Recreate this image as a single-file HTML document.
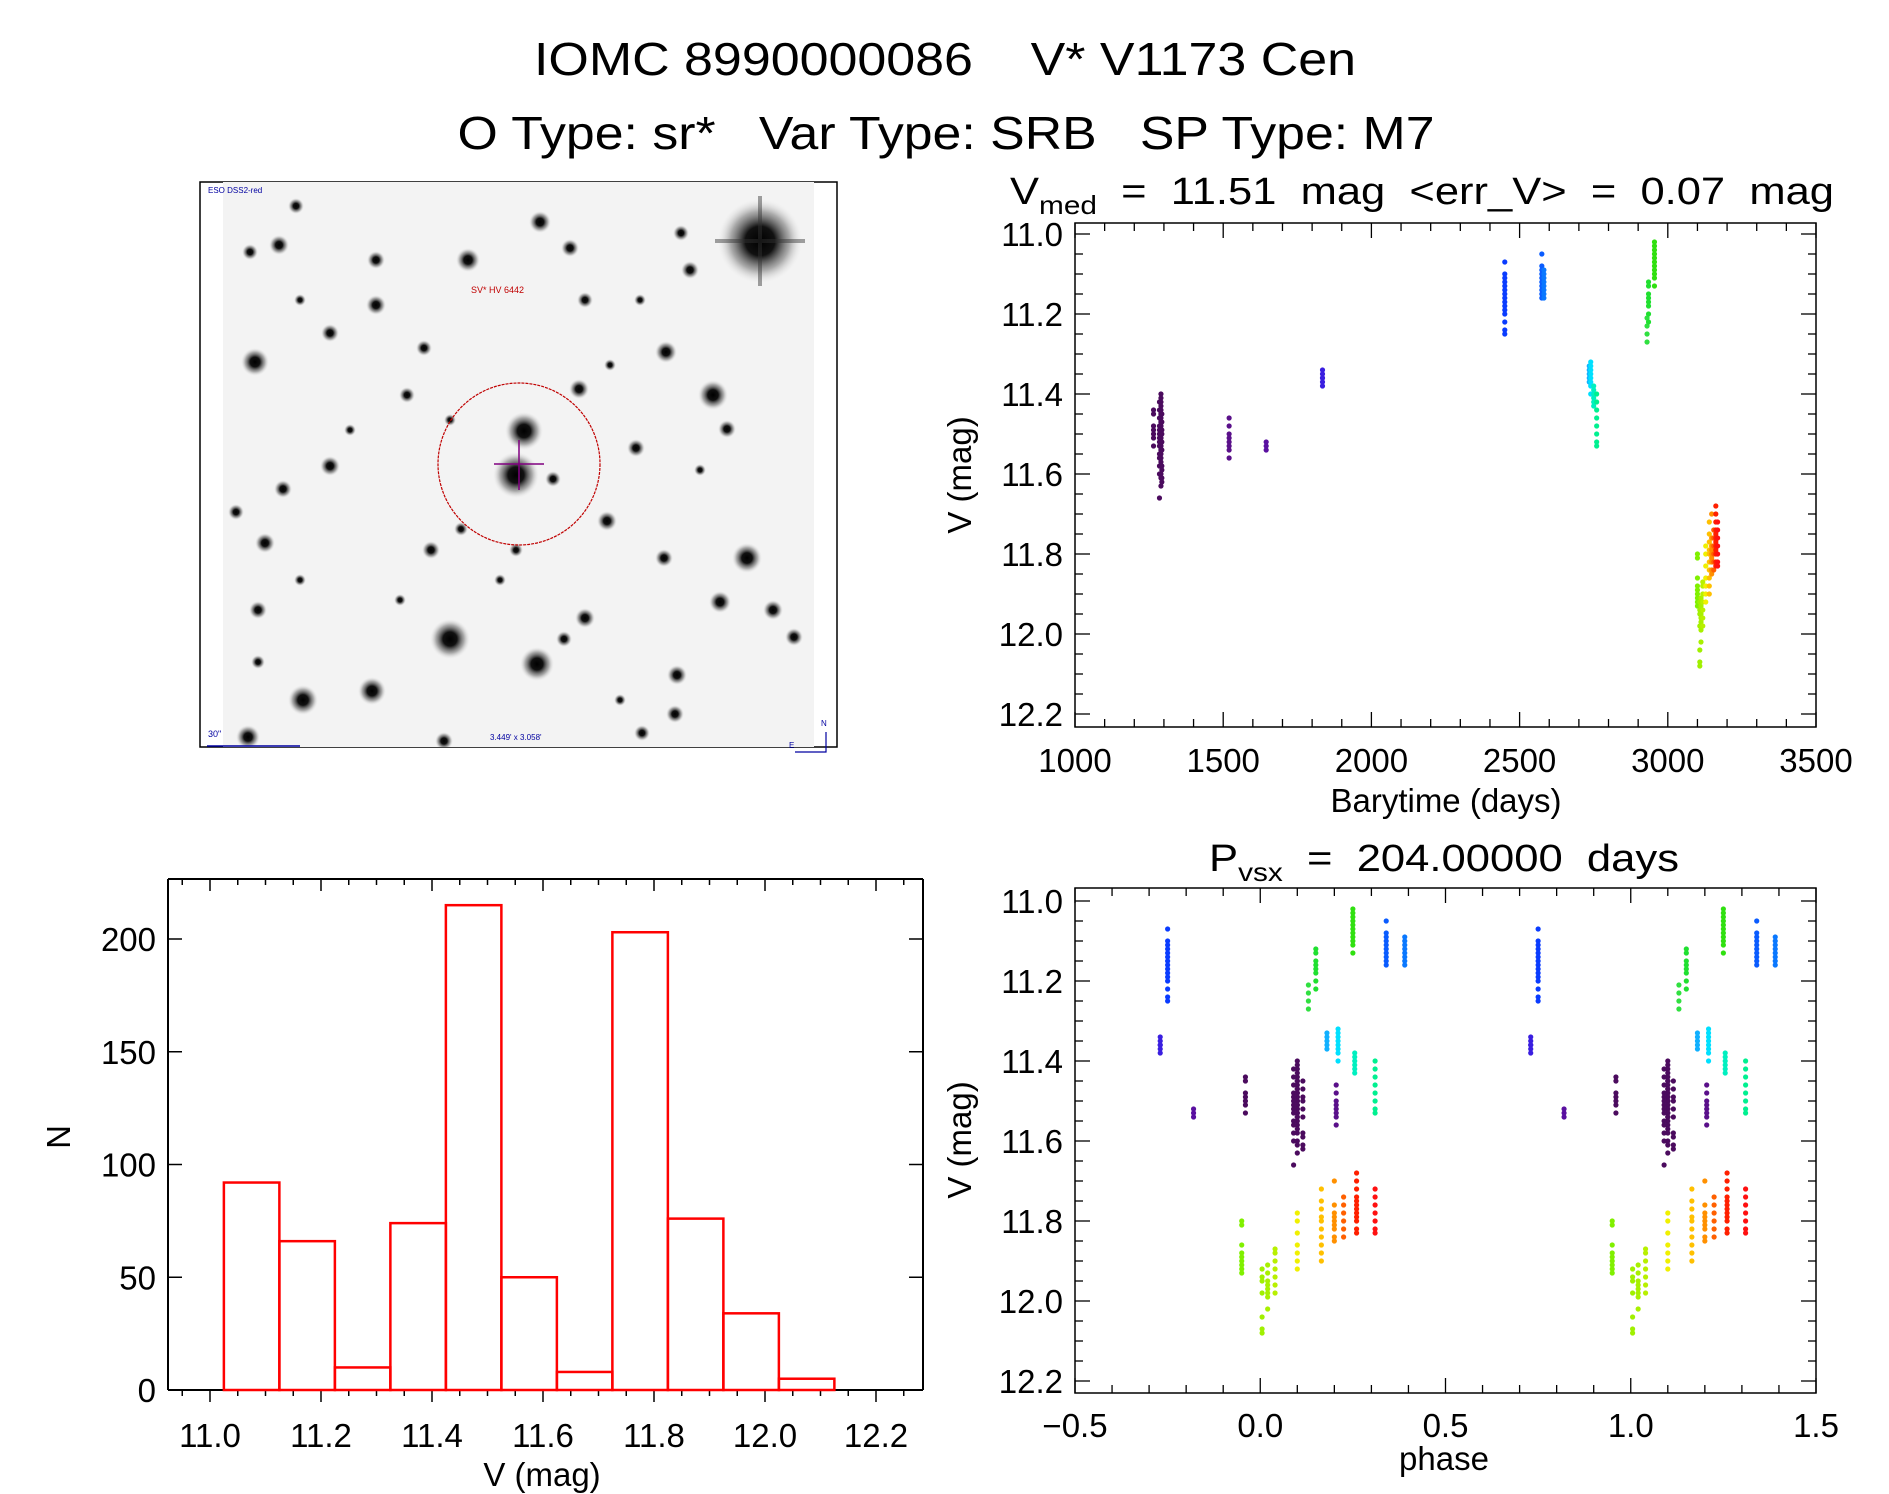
<!DOCTYPE html>
<html><head><meta charset="utf-8"><style>
html,body{margin:0;padding:0;background:#fff;}
svg{display:block;font-family:"Liberation Sans",sans-serif;}
svg text{white-space:pre;}
</style></head><body>
<svg id="fig" width="1889" height="1494" viewBox="0 0 1889 1494" xmlns="http://www.w3.org/2000/svg" xml:space="preserve">
<defs>
<radialGradient id="star"><stop offset="0" stop-color="#000"/><stop offset="0.35" stop-color="#111"/><stop offset="0.7" stop-color="#777" stop-opacity="0.6"/><stop offset="1" stop-color="#ddd" stop-opacity="0"/></radialGradient>
<clipPath id="imgclip"><rect x="223" y="182" width="591" height="565"/></clipPath>
</defs>
<text x="945" y="75" font-size="46" text-anchor="middle" textLength="822" lengthAdjust="spacingAndGlyphs">IOMC 8990000086    V* V1173 Cen</text>
<text x="946" y="149" font-size="46" text-anchor="middle" textLength="977" lengthAdjust="spacingAndGlyphs">O Type: sr*   Var Type: SRB   SP Type: M7</text>

<g id="skyimg">
<rect x="200" y="182" width="637" height="565" fill="#fff" stroke="#000" stroke-width="1.5"/>
<rect x="223" y="182" width="591" height="565" fill="#f3f3f3"/>
<g id="stars" clip-path="url(#imgclip)"></g>
<ellipse cx="519" cy="464" rx="81" ry="81" fill="none" stroke="#c00000" stroke-width="1.2" stroke-dasharray="3 1"/>
<line x1="494" y1="464" x2="544" y2="464" stroke="#800080" stroke-width="1.5"/>
<line x1="519" y1="440" x2="519" y2="490" stroke="#800080" stroke-width="1.5"/>
<text x="208" y="193" font-size="8" fill="#0000a0">ESO DSS2-red</text>
<text x="471" y="293" font-size="9" fill="#c00000">SV* HV 6442</text>
<text x="490" y="740" font-size="8" fill="#0000a0">3.449' x 3.058'</text>
<text x="208" y="737" font-size="9" fill="#0000a0">30"</text>
<line x1="207" y1="746" x2="300" y2="746" stroke="#0000a0" stroke-width="1.5"/>
<path d="M826,732 V752 H795" fill="none" stroke="#0000a0" stroke-width="1.2"/>
<text x="821" y="726" font-size="8" fill="#0000a0">N</text>
<text x="789" y="748" font-size="8" fill="#0000a0">E</text>
</g>

<g id="lc"></g>
<g id="ph"></g>
<g id="hist"></g>
</svg>
<script>
// ---------- data ----------
const groupTimes = [1290,1285,1293,1265,1520,1645,1835,2450,2575,2582,2735,2740,2750,2760,2930,2935,2955,3100,3108,3112,3118,3128,3140,3148,3155,3162,3168];
const groupPhases = [0.10,0.09,0.115,-0.04,0.205,-0.18,-0.27,-0.25,0.34,0.39,0.18,0.21,0.255,0.31,0.13,0.15,0.25,-0.05,0.005,0.02,0.04,0.10,0.165,0.20,0.225,0.26,0.31];
const groupMags = [
[11.40,11.41,11.42,11.43,11.44,11.45,11.45,11.46,11.47,11.47,11.48,11.48,11.49,11.49,11.50,11.50,11.50,11.51,11.51,11.52,11.52,11.53,11.53,11.54,11.54,11.55,11.56,11.57,11.58,11.60,11.61,11.63],
[11.42,11.44,11.46,11.48,11.49,11.50,11.51,11.52,11.53,11.55,11.56,11.58,11.60,11.66],
[11.45,11.47,11.49,11.50,11.52,11.54,11.58,11.59,11.61,11.62],
[11.44,11.45,11.48,11.49,11.50,11.51,11.53],
[11.46,11.48,11.50,11.51,11.52,11.53,11.54,11.56],
[11.52,11.53,11.54],
[11.34,11.35,11.36,11.36,11.37,11.38],
[11.07,11.10,11.11,11.12,11.13,11.14,11.15,11.16,11.17,11.18,11.19,11.20,11.22,11.24,11.25],
[11.05,11.08,11.09,11.10,11.11,11.12,11.13,11.14,11.15,11.16],
[11.09,11.10,11.11,11.12,11.13,11.14,11.15,11.16],
[11.33,11.34,11.35,11.36,11.37],
[11.32,11.33,11.34,11.35,11.36,11.37,11.38,11.40],
[11.38,11.39,11.40,11.41,11.42,11.43],
[11.40,11.42,11.44,11.46,11.48,11.50,11.52,11.53],
[11.21,11.23,11.25,11.27],
[11.12,11.13,11.15,11.16,11.17,11.18,11.20,11.22],
[11.02,11.03,11.04,11.05,11.06,11.07,11.08,11.09,11.10,11.11,11.13],
[11.80,11.81,11.86,11.88,11.89,11.90,11.91,11.92,11.93],
[11.92,11.94,11.95,11.98,12.04,12.07,12.08],
[11.91,11.93,11.95,11.96,11.97,11.98,11.99,12.02],
[11.87,11.88,11.90,11.92,11.94,11.96,11.98],
[11.78,11.80,11.83,11.86,11.88,11.90,11.92],
[11.72,11.75,11.77,11.79,11.80,11.82,11.84,11.86,11.88,11.90],
[11.70,11.76,11.78,11.79,11.80,11.81,11.82,11.84,11.85],
[11.74,11.76,11.78,11.80,11.82,11.84],
[11.68,11.70,11.72,11.74,11.75,11.76,11.77,11.78,11.79,11.80,11.82,11.83],
[11.72,11.74,11.76,11.78,11.80,11.82,11.83]
];
const groupColors = ['#4b0b5e','#4b0b5e','#4b0b5e','#4b0b5e','#5a108a','#5a10a0','#3a1ee0','#0a3cff','#0a5cff','#0a78ff','#10b0ff','#00e0ff','#00f0c0','#00f090','#30e040','#20e030','#30e010','#80f000','#a0f000','#a8f000','#b8f000','#f0f000','#ffc000','#ff9000','#ff6000','#ff2000','#ff1010'];
const histBinStarts = [11.025,11.125,11.225,11.325,11.425,11.525,11.625,11.725,11.825,11.925,12.025];
const histCounts = [92,66,10,74,215,50,8,203,76,34,5];
const histBinWidth = 0.1;
const lcXTicks = [1000,1500,2000,2500,3000,3500];
const magTicks = [11.0,11.2,11.4,11.6,11.8,12.0,12.2];
const phXTicks = [-0.5,0.0,0.5,1.0,1.5];
const histXTicks = [11.0,11.2,11.4,11.6,11.8,12.0,12.2];
const histYTicks = [0,50,100,150,200];
const starList = [[760,241,42],[524,431,19],[516,475,23],[450,639,20],[537,664,17],[303,700,15],[372,691,14],[255,362,14],[713,395,15],[747,558,15],[468,260,12],[540,222,11],[666,352,11],[720,602,11],[773,610,10],[794,637,9],[677,675,10],[675,714,9],[664,558,9],[607,521,10],[579,389,10],[585,618,10],[564,639,8],[636,448,9],[727,429,9],[330,466,10],[283,489,9],[265,543,10],[236,512,8],[258,610,9],[376,305,10],[376,260,9],[279,245,10],[250,252,8],[296,206,8],[570,248,9],[690,270,9],[585,300,8],[424,348,8],[407,395,8],[330,333,9],[681,233,8],[431,550,9],[248,737,12],[444,741,9],[642,733,8],[258,662,7],[516,550,7],[461,529,7],[553,479,8],[610,365,6],[350,430,6],[700,470,6],[300,580,6],[400,600,6],[620,700,6],[500,580,6],[450,420,6],[640,300,6],[300,300,6]];

const NS='http://www.w3.org/2000/svg';
function mk(tag, attrs, parent, text){const e=document.createElementNS(NS,tag);for(const k in attrs)e.setAttribute(k,attrs[k]);if(text!==undefined)e.textContent=text;parent.appendChild(e);return e;}

// stars
const sg=document.getElementById('stars');
starList.forEach(s=>{
  const c=mk('circle',{cx:s[0],cy:s[1],r:s[2],fill:'url(#star)'},sg);
  
  
});
mk('path',{d:'M715,241 H805 M760,196 V286',stroke:'#333','stroke-width':4,opacity:0.45},sg);

// ---------- light curve ----------
(function(){
  const g=document.getElementById('lc');
  const L=1075,R=1816,T=223,B=727, y0=234, y1=714;
  const sx=t=>L+(t-1000)/2500*(R-L);
  const sy=m=>y0+(m-11)/1.2*(y1-y0);
  mk('rect',{x:L,y:T,width:R-L,height:B-T,fill:'none',stroke:'#000','stroke-width':1.5},g);
  for(let t=1000;t<=3500;t+=100){const x=sx(t);const len=(t%500===0)?15:8;
    mk('line',{x1:x,y1:B,x2:x,y2:B-len,stroke:'#000','stroke-width':1.3},g);
    mk('line',{x1:x,y1:T,x2:x,y2:T+len,stroke:'#000','stroke-width':1.3},g);}
  for(let i=0;i<=24;i++){const m=11+i*0.05;const y=sy(m);const len=(i%4===0)?15:8;
    mk('line',{x1:L,y1:y,x2:L+len,y2:y,stroke:'#000','stroke-width':1.3},g);
    mk('line',{x1:R,y1:y,x2:R-len,y2:y,stroke:'#000','stroke-width':1.3},g);}
  lcXTicks.forEach(t=>{const e=mk('text',{x:sx(t),y:772,'font-size':33,'text-anchor':'middle'},g,String(t));});
  magTicks.forEach(m=>{const e=mk('text',{x:1063,y:sy(m)+12,'font-size':33,'text-anchor':'end'},g,m.toFixed(1));});
  const xt=mk('text',{x:1446,y:812,'font-size':33,'text-anchor':'middle'},g,'Barytime (days)');
  
  const yt=mk('text',{x:0,y:0,'font-size':33,'text-anchor':'middle',transform:'translate(971,475) rotate(-90)'},g,'V (mag)');
  
  const tt=mk('text',{x:1010,y:204,'font-size':38,textLength:824,lengthAdjust:'spacingAndGlyphs'},g);
  
  tt.innerHTML='V<tspan font-size="26" dy="10">med</tspan><tspan dy="-10">  =  11.51  mag  &lt;err_V&gt;  =  0.07  mag</tspan>';
  groupMags.forEach((ms,gi)=>{ms.forEach(m=>{
    const c=mk('circle',{cx:sx(groupTimes[gi]),cy:sy(m),r:2.6,fill:groupColors[gi]},g);
    
  });});
})();

// ---------- phase curve ----------
(function(){
  const g=document.getElementById('ph');
  const L=1075,R=1816,T=888,B=1393, y0=901, y1=1381;
  const sx=p=>L+(p+0.5)/2*(R-L);
  const sy=m=>y0+(m-11)/1.2*(y1-y0);
  mk('rect',{x:L,y:T,width:R-L,height:B-T,fill:'none',stroke:'#000','stroke-width':1.5},g);
  for(let i=0;i<=20;i++){const p=-0.5+i*0.1;const x=sx(p);const len=(i%5===0)?15:8;
    mk('line',{x1:x,y1:B,x2:x,y2:B-len,stroke:'#000','stroke-width':1.3},g);
    mk('line',{x1:x,y1:T,x2:x,y2:T+len,stroke:'#000','stroke-width':1.3},g);}
  for(let i=0;i<=24;i++){const m=11+i*0.05;const y=sy(m);const len=(i%4===0)?15:8;
    mk('line',{x1:L,y1:y,x2:L+len,y2:y,stroke:'#000','stroke-width':1.3},g);
    mk('line',{x1:R,y1:y,x2:R-len,y2:y,stroke:'#000','stroke-width':1.3},g);}
  phXTicks.forEach(p=>{const e=mk('text',{x:sx(p),y:1437,'font-size':33,'text-anchor':'middle'},g,(p<0?'\u2212':'')+Math.abs(p).toFixed(1));});
  magTicks.forEach(m=>{const e=mk('text',{x:1063,y:sy(m)+12,'font-size':33,'text-anchor':'end'},g,m.toFixed(1));});
  const xt=mk('text',{x:1444,y:1470,'font-size':33,'text-anchor':'middle'},g,'phase');
  
  const yt=mk('text',{x:0,y:0,'font-size':33,'text-anchor':'middle',transform:'translate(971,1140) rotate(-90)'},g,'V (mag)');
  
  const tt=mk('text',{x:1209,y:871,'font-size':38,textLength:470,lengthAdjust:'spacingAndGlyphs'},g);
  
  tt.innerHTML='P<tspan font-size="26" dy="10">vsx</tspan><tspan dy="-10">  =  204.00000  days</tspan>';
  groupMags.forEach((ms,gi)=>{ms.forEach(m=>{
    [0,1].forEach(k=>{
      const c=mk('circle',{cx:sx(groupPhases[gi]+k),cy:sy(m),r:2.6,fill:groupColors[gi]},g);
      
    });
  });});
})();

// ---------- histogram ----------
(function(){
  const g=document.getElementById('hist');
  const L=168,R=923,T=879,B=1390;
  const sx=v=>210+(v-11.0)/1.2*(876-210);
  const sy=n=>B-n/200*(B-939);
  mk('line',{x1:L,y1:T,x2:R,y2:T,stroke:'#000','stroke-width':2},g);
  mk('line',{x1:L,y1:B,x2:R,y2:B,stroke:'#000','stroke-width':2},g);
  mk('line',{x1:L,y1:T,x2:L,y2:B,stroke:'#000','stroke-width':2},g);
  mk('line',{x1:R,y1:T,x2:R,y2:B,stroke:'#000','stroke-width':2},g);
  for(let i=-1;i<=25;i++){const v=11+i*0.05;const x=sx(v);if(x<L||x>R)continue;const len=(i%4===0)?12:6;
    mk('line',{x1:x,y1:B,x2:x,y2:B+len,stroke:'#000','stroke-width':1.5},g);
    mk('line',{x1:x,y1:T,x2:x,y2:T+len,stroke:'#000','stroke-width':1.5},g);}
  histYTicks.forEach(n=>{const y=sy(n);
    mk('line',{x1:L,y1:y,x2:L+14,y2:y,stroke:'#000','stroke-width':1.5},g);
    mk('line',{x1:R,y1:y,x2:R-14,y2:y,stroke:'#000','stroke-width':1.5},g);
    const e=mk('text',{x:156,y:y+12,'font-size':33,'text-anchor':'end'},g,String(n));
    });
  histXTicks.forEach(v=>{const e=mk('text',{x:sx(v),y:1447,'font-size':33,'text-anchor':'middle'},g,v.toFixed(1));});
  const xt=mk('text',{x:542,y:1486,'font-size':33,'text-anchor':'middle'},g,'V (mag)');
  
  const yt=mk('text',{x:0,y:0,'font-size':33,'text-anchor':'middle',transform:'translate(70,1137) rotate(-90)'},g,'N');
  
  histCounts.forEach((n,i)=>{
    const x0=sx(histBinStarts[i]),x1=sx(histBinStarts[i]+histBinWidth);
    const r=mk('rect',{x:x0,y:sy(n),width:x1-x0,height:B-sy(n),fill:'none',stroke:'#ff0000','stroke-width':2.5},g);
    
  });
})();
</script>
</body></html>
